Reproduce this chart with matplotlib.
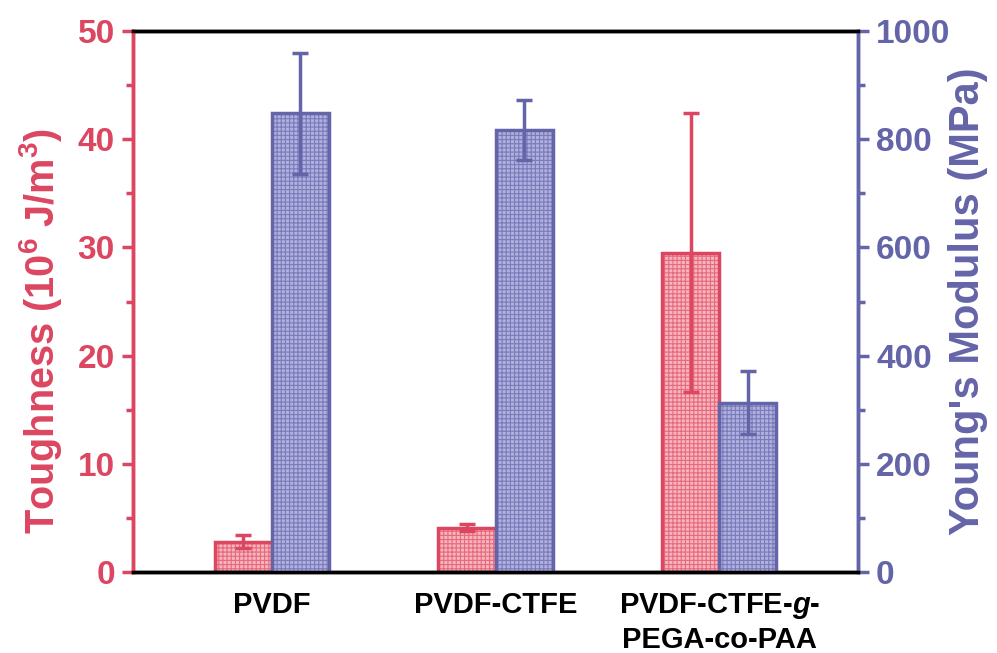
import matplotlib
matplotlib.use("Agg")
import matplotlib.pyplot as plt
import numpy as np
from matplotlib.ticker import MultipleLocator

plt.rcParams['font.family'] = ['Liberation Sans', 'DejaVu Sans']
plt.rcParams['font.weight'] = 'bold'
plt.rcParams['mathtext.fontset'] = 'custom'
plt.rcParams['mathtext.rm'] = 'Liberation Sans:bold'
plt.rcParams['mathtext.it'] = 'Liberation Sans:italic:bold'
plt.rcParams['mathtext.bf'] = 'Liberation Sans:bold'
plt.rcParams['hatch.linewidth'] = 0.8

categories = ["PVDF", "PVDF-CTFE", "PVDF-CTFE-$\\it{g}$-\nPEGA-co-PAA"]
toughness = [2.8, 4.1, 29.5]
toughness_err = [0.6, 0.35, 12.9]
modulus = [848, 817, 313]
modulus_err = [112, 56, 58]

RED = '#dc4660'
BLUE = '#6464a8'
RED_FILL = '#f6b4be'
RED_HATCH = '#e66a7b'
BLUE_FILL = '#b0b0dc'
BLUE_HATCH = '#7a7abd'

fig = plt.figure(figsize=(9.97, 6.53), dpi=100)
ax = fig.add_axes([0.1334, 0.124, 0.7272, 0.8285])
ax2 = ax.twinx()

x = np.arange(1, len(categories) + 1)
w = 0.255

# hatched fill
ax.bar(x - w / 2, toughness, width=w, facecolor=RED_FILL, edgecolor=RED_HATCH, linewidth=0,
       hatch='++++', zorder=2)
# outline
ax.bar(x - w / 2, toughness, width=w, facecolor='none', edgecolor=RED, linewidth=2.5, zorder=2.5)
ax.errorbar(x - w / 2, toughness, yerr=toughness_err, fmt='none', ecolor=RED,
            elinewidth=2.5, capsize=6, capthick=2.5, zorder=3)

ax2.bar(x + w / 2, modulus, width=w, facecolor=BLUE_FILL, edgecolor=BLUE_HATCH, linewidth=0,
        hatch='++++', zorder=2)
ax2.bar(x + w / 2, modulus, width=w, facecolor='none', edgecolor=BLUE, linewidth=2.5, zorder=2.5)
ax2.errorbar(x + w / 2, modulus, yerr=modulus_err, fmt='none', ecolor=BLUE,
             elinewidth=2.5, capsize=6, capthick=2.5, zorder=3)

ax.set_xlim(0.38, 3.62)
ax.set_ylim(0, 50)
ax2.set_ylim(0, 1000)

ax.set_xticks(x)
ax.set_xticklabels(categories, fontsize=21, fontweight='bold', color='black', linespacing=1.2)
ax.tick_params(axis='x', length=0, pad=14)

ax.yaxis.set_major_locator(MultipleLocator(10))
ax.yaxis.set_minor_locator(MultipleLocator(5))
ax2.yaxis.set_major_locator(MultipleLocator(200))
ax2.yaxis.set_minor_locator(MultipleLocator(100))

ax.tick_params(axis='y', which='major', direction='out', length=8, width=2.5, colors=RED,
               labelsize=24, pad=5)
ax.tick_params(axis='y', which='minor', direction='out', length=5, width=2.5, colors=RED)
ax2.tick_params(axis='y', which='major', direction='out', length=8, width=2.5, colors=BLUE,
                labelsize=24, pad=5)
ax2.tick_params(axis='y', which='minor', direction='out', length=5, width=2.5, colors=BLUE)
for lab in ax.get_yticklabels() + ax2.get_yticklabels():
    lab.set_fontweight('bold')

for a in (ax, ax2):
    a.spines['top'].set_color('black')
    a.spines['bottom'].set_color('black')
    a.spines['top'].set_linewidth(2.5)
    a.spines['bottom'].set_linewidth(2.5)
    a.spines['left'].set_color(RED)
    a.spines['right'].set_color(BLUE)
    a.spines['left'].set_linewidth(2.5)
    a.spines['right'].set_linewidth(2.5)

ax.set_ylabel('Toughness (10$^{6}$ J/m$^{3}$)', fontsize=28.5, fontweight='bold', color=RED,
              va='center')
ax2.set_ylabel("Young's Modulus (MPa)", fontsize=30, fontweight='bold', color=BLUE,
               va='center', rotation=90)
ax.yaxis.set_label_coords(-0.128, 0.445)
ax2.yaxis.set_label_coords(1.152, 0.5)

fig.savefig('out.png', dpi=100)
